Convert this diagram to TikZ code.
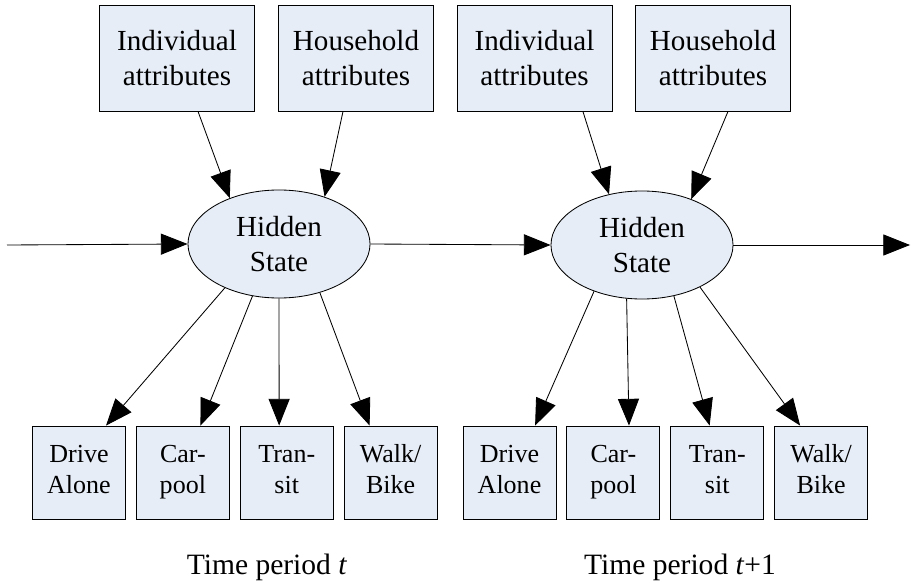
\documentclass[tikz,border=0pt]{standalone}
\usepackage{fontspec}
\setmainfont{Liberation Serif}
\usepackage{xcolor}
\usetikzlibrary{arrows.meta,positioning,shapes.geometric}
\definecolor{boxfill}{RGB}{231,237,247}
\begin{document}
\begin{tikzpicture}[
   x=0.025cm,y=-0.025cm,
   every node/.style={font=\fontsize{20.7}{25.5}\selectfont},
   attr/.style={draw,rectangle,fill=boxfill,minimum width=3.875cm,
                minimum height=2.65cm,align=center,line width=0.6pt},
   hidden/.style={draw,ellipse,fill=boxfill,minimum width=4.55cm,
                  minimum height=2.7cm,inner sep=0pt,align=center,line width=0.6pt},
   mode/.style={draw,rectangle,fill=boxfill,minimum width=2.325cm,
                minimum height=2.325cm,inner sep=0pt,align=center,line width=0.6pt,
                font=\fontsize{18.5}{22}\selectfont,
                execute at begin node={\rule{0pt}{16.7pt}},
                execute at end node={\rule[-4.5pt]{0pt}{4.5pt}}},
   period/.style={font=\fontsize{21}{25}\selectfont},
   ln/.style={line width=0.6pt,-{Triangle[length=19pt,width=15pt]}},
   node distance=0.25cm
]
\useasboundingbox (0,0) rectangle (911,583);

% time period t
\node[attr] (ind1) at (177,58) {Individual\\attributes};
\node[attr] (hh1) at (356,58) {Household\\attributes};
\node[hidden] (hs1) at (279,244) {Hidden\\State};
\node[mode] (da1) at (79,472.5) {Drive\\Alone};
\node[mode,right=of da1] (cp1) {Car-\\pool};
\node[mode,right=of cp1] (tr1) {Tran-\\sit};
\node[mode,right=of tr1] (wb1) {Walk/\\Bike};
\node[period] (tp1) at (267,567) {Time period \textit{t}};

% time period t+1
\node[attr] (ind2) at (534.5,58) {Individual\\attributes};
\node[attr] (hh2) at (713,58) {Household\\attributes};
\node[hidden] (hs2) at (642,245) {Hidden\\State};
\node[mode] (da2) at (509.5,472.5) {Drive\\Alone};
\node[mode,right=of da2] (cp2) {Car-\\pool};
\node[mode,right=of cp2] (tr2) {Tran-\\sit};
\node[mode,right=of tr2] (wb2) {Walk/\\Bike};
\node[period] (tp2) at (680,567) {Time period \textit{t}+1};

% chain
\coordinate (cin) at (7,245);
\coordinate (cout) at (910,245);
\draw[ln] (cin) -- (hs1.west);
\draw[ln] (hs1.east) -- (hs2.west);
\draw[ln] (hs2.east) -- (cout);

% attributes
\draw[ln] ([xshift=0.525cm]ind1.south) -- (hs1.137);
\draw[ln] ([xshift=-0.325cm]hh1.south) -- (hs1.46);
\draw[ln] ([xshift=1.21cm]ind2.south) -- (hs2.123);
\draw[ln] ([xshift=0.375cm]hh2.south) -- (hs2.43);

% observed modes
\draw[ln] (hs1.219) -- ([xshift=0.675cm]da1.north);
\draw[ln] (hs1.243) -- ([xshift=0.44cm]cp1.north);
\draw[ln] (hs1.270) -- ([xshift=-0.19cm]tr1.north);
\draw[ln] (hs1.310) -- ([xshift=-0.525cm]wb1.north);
\draw[ln] (hs2.224) -- ([xshift=0.64cm]da2.north);
\draw[ln] (hs2.254) -- ([xshift=0.39cm]cp2.north);
\draw[ln] (hs2.302) -- ([xshift=-0.19cm]tr2.north);
\draw[ln] (hs2.324) -- ([xshift=-0.525cm]wb2.north);

\end{tikzpicture}
\end{document}
